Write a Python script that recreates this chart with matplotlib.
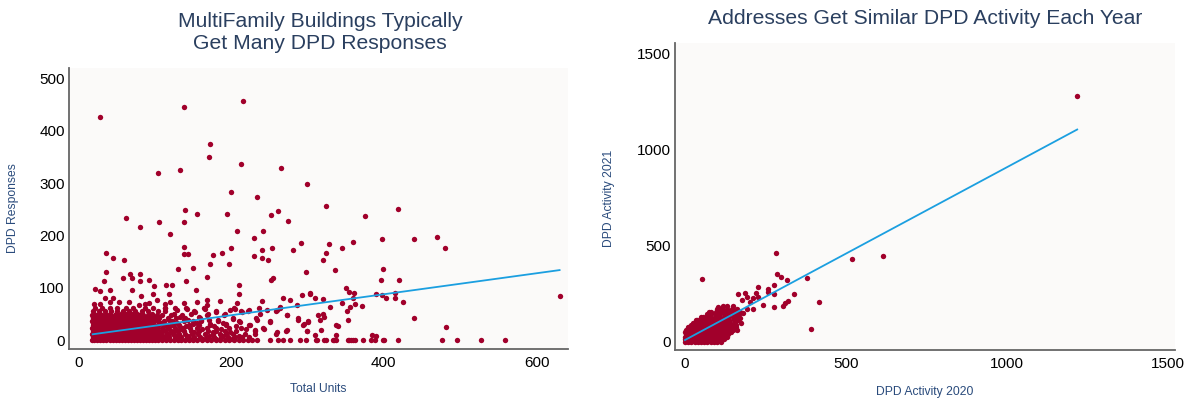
import matplotlib
matplotlib.use("Agg")
import matplotlib.pyplot as plt

plt.rcParams['font.family'] = ['Liberation Sans', 'DejaVu Sans']

# ---- left chart: total units vs DPD responses ----
# sparse points above the dense band
upper_units = [28, 139, 216, 172, 171, 213, 104, 133, 266, 300, 200, 234.5, 140, 156, 195, 252,
               261, 63, 81, 106, 138, 275, 120, 208, 242, 230, 292, 36, 46, 60, 138, 138, 144,
               176, 188, 200, 230, 240, 240, 248.5, 253, 281, 172, 197, 131, 150,
               324, 418, 376, 328, 324, 320, 359, 345, 398, 440, 470, 480, 336, 399, 396, 420,
               350, 354, 361, 390, 398, 414, 403, 414, 359, 304, 310, 321, 345, 362, 371, 356,
               329, 425, 630, 352, 314, 320, 322, 316.5, 353, 439, 337.5, 340, 482, 317.5, 310,
               337.5, 384.5, 390,
               36, 34, 59, 68, 81, 70, 81, 93, 141, 168, 252, 255, 298, 22, 29, 41, 70, 99, 115,
               123, 154, 211, 210, 82, 98.5, 119, 293, 303, 35, 46, 53, 21, 29, 42, 66, 79, 88,
               93, 103, 114, 120, 138, 155, 168, 168, 186, 207.5, 240, 268.5, 277, 264, 286]
upper_resp = [427, 445, 457, 375, 350, 336, 319, 325, 329, 298, 283, 273, 248, 242, 242, 240,
              246, 234, 216, 225, 225, 228, 202, 209, 209, 195, 186, 167, 158, 153, 179, 165, 165,
              163, 167, 177, 161, 173, 157, 153, 176, 172, 145, 145, 137, 138,
              257, 251, 237, 184, 167, 153, 188, 176, 193, 193, 198, 176, 135, 137, 115, 115,
              99, 92, 91, 88, 87, 90, 80, 81, 81, 90, 81, 78, 71, 69, 66, 64,
              64, 73, 84, 56, 48, 50, 44, 38, 38, 42, 29, 27, 25, 20, 10,
              10, 11, 9,
              130, 113, 119, 126, 127, 118, 113, 116, 113, 121, 115, 119, 130, 97, 94, 96, 96, 104, 105,
              105, 96, 106, 89, 85, 89, 88, 87, 89, 81, 81, 73, 70, 70, 73, 73, 68, 70,
              71, 76, 70, 73, 71, 73, 76, 68, 75, 71, 75, 80, 76, 64, 67]

# medium density points above the zero row
mid_units = [114, 129, 142, 153, 166, 170, 181, 192, 199, 205, 214, 223, 238, 247, 260, 273, 288,
             295, 301, 251, 234, 225, 212, 203, 194, 183, 172, 161, 150, 139, 133, 124, 115, 232,
             243, 260, 273, 299]
mid_resp = [62, 57, 60, 54, 60, 51, 54, 51, 57, 60, 54, 57, 51, 57, 57, 48, 38,
            32, 35, 35, 38, 29, 35, 41, 32, 38, 32, 38, 32, 38, 25, 35, 29, 19,
            22, 16, 19, 18]

# dense band near zero, one list of units per response level
dense_levels = [0, 6, 12, 18, 24, 30, 36, 42, 48, 55, 62,
                3, 9, 15, 21, 27, 33, 39, 45, 51]
dense_units = [
    [18, 21, 25, 29, 33, 37, 41, 45, 49, 53, 57, 61, 65, 69, 73, 77, 81, 85, 89, 93, 97, 101, 105,
     110, 115, 120, 125, 130, 135, 140, 145, 150, 156, 162, 168, 174, 180, 186, 192, 198, 204, 210,
     216, 222, 228, 234, 251, 262, 268, 277, 290, 298, 311, 312, 322, 324, 333, 335, 337.5, 353,
     355, 357.5, 360, 362, 372.5, 383, 389, 399, 400.5, 419, 476.5, 496, 527, 558.5],
    [19, 24, 29, 34, 39, 44, 49, 54, 59, 64, 69, 74, 79, 84, 89, 94, 99, 104, 111, 119, 127, 135,
     143, 152, 160, 169, 178, 187, 196, 205, 214, 224],
    [18, 23, 28, 33, 38, 43, 48, 53, 58, 63, 68, 73, 78, 83, 88, 93, 98, 103, 109, 117, 124, 132,
     140, 149, 157, 166, 176, 185, 194, 203, 218, 231, 259],
    [20, 25, 30, 35, 40, 45, 50, 55, 60, 65, 70, 75, 80, 85, 90, 95, 100, 105, 113, 121, 130, 139,
     148, 158, 170, 181, 192, 206, 231, 272, 299],
    [18, 23, 28, 33, 38, 43, 48, 53, 58, 63, 68, 73, 78, 83, 88, 93, 98, 103, 110, 118, 127, 137,
     146, 155, 168, 180, 197, 213, 242],
    [19, 24, 29, 34, 39, 44, 49, 54, 59, 64, 69, 74, 79, 84, 89, 94, 99, 104, 114, 124, 132, 145,
     158, 173, 193, 224, 294],
    [18, 23, 28, 33, 38, 43, 48, 53, 58, 63, 68, 73, 78, 83, 88, 93, 98, 104, 112, 123, 138, 150,
     161, 183, 211, 251, 301],
    [20, 25, 30, 35, 40, 45, 50, 55, 60, 65, 70, 75, 80, 85, 90, 95, 100, 106, 117, 128, 140, 160,
     202, 233, 288],
    [18, 24, 30, 36, 42, 48, 54, 61, 67, 73, 79, 85, 91, 97, 103, 110, 122, 136, 169, 191, 273],
    [19, 27, 35, 43, 51, 59, 67, 75, 83, 92, 104, 114, 152, 180, 213, 222, 259],
    [22, 31, 42, 51, 62, 72, 87, 98, 113, 127, 141, 165, 204, 237, 264],
    [21, 26, 31, 36, 41, 46, 51, 56, 61, 66, 71, 76, 81, 86, 91, 96, 101, 107, 116, 131, 146, 163,
     181, 201],
    [20, 26, 32, 38, 44, 50, 56, 62, 68, 74, 80, 86, 92, 98, 104, 114, 128, 144, 171, 189, 211],
    [21, 26, 31, 36, 41, 46, 51, 56, 61, 66, 71, 76, 81, 86, 91, 96, 101, 108, 126, 152, 176, 199],
    [19, 25, 31, 37, 43, 49, 55, 61, 67, 73, 79, 85, 91, 97, 103, 116, 134, 162, 187, 219],
    [21, 26, 31, 36, 41, 46, 51, 56, 61, 66, 71, 76, 81, 86, 91, 96, 101, 120, 141, 178, 207],
    [20, 26, 32, 38, 44, 50, 56, 62, 68, 74, 80, 86, 92, 98, 108, 129, 155, 189],
    [21, 27, 33, 39, 45, 51, 57, 63, 69, 75, 81, 87, 93, 100, 119, 144, 171],
    [19, 25, 31, 37, 43, 49, 55, 61, 67, 73, 79, 85, 92, 102, 133, 158],
    [21, 28, 35, 42, 49, 56, 63, 70, 77, 84, 96, 126, 147],
]

# fitted trend line, end points
trend1_units = [19, 630]
trend1_resp = [11.5, 134]

# ---- right chart: DPD activity 2020 vs 2021 ----
act_2020 = [1219, 519, 615, 283, 52, 285, 298, 316, 380, 339, 417, 393, 319, 311, 306, 276, 278,
            257, 257, 278, 228, 221, 228, 242, 212, 202, 194, 187, 166, 176, 210, 192, 179, 174,
            161, 150, 135, 150, 161, 171, 103.5, 111, 98.5, 75.5, 57, 36, 119, 124]
act_2021 = [1278, 430, 447, 461, 328, 354, 338, 321, 333, 246, 206, 66, 212, 200, 187, 179, 248,
            272, 257, 295, 286, 252, 234, 191, 226, 208, 234, 255, 246, 217, 168, 170, 148, 96,
            61, 78, 70, 165, 148, 122, 179, 168, 156, 156, 130, 113, 90, 125]

blob_levels = [0, 12, 25, 38, 50, 62, 75, 88, 100, 114, 128, 142, 156, 170, 184]
blob_2020 = [
    [0, 10, 20, 30, 40, 50, 60, 70, 80, 90, 100, 112],
    [0, 10, 20, 30, 40, 50, 60, 70, 80, 90, 100, 110, 120],
    [0, 12, 24, 36, 48, 60, 72, 84, 96, 108, 120, 130],
    [2, 14, 26, 38, 50, 62, 74, 86, 98, 110, 122, 135],
    [0, 12, 24, 36, 48, 60, 72, 84, 96, 108, 120, 132, 142],
    [4, 16, 28, 40, 52, 64, 76, 88, 100, 112, 124, 138, 150],
    [8, 22, 36, 50, 62, 74, 86, 98, 110, 122, 134, 148, 160],
    [18, 32, 46, 60, 72, 84, 96, 108, 120, 132, 146, 158],
    [26, 40, 54, 66, 78, 90, 102, 114, 126, 140, 154],
    [34, 48, 62, 76, 88, 100, 112, 124, 138, 152, 165],
    [50, 64, 78, 92, 106, 120, 134, 148, 160],
    [68, 82, 96, 110, 124, 138, 152, 168],
    [82, 96, 110, 124, 140, 156, 172],
    [100, 114, 130, 146, 162],
    [118, 132, 150],
]

trend2_2020 = [0, 1219]
trend2_2021 = [9, 1104]

# ---- assemble point lists ----
units = upper_units + mid_units
resp = upper_resp + mid_resp
for lvl, row in zip(dense_levels, dense_units):
    units += row
    resp += [lvl] * len(row)

x2 = list(act_2020)
y2 = list(act_2021)
for lvl, row in zip(blob_levels, blob_2020):
    x2 += row
    y2 += [lvl] * len(row)

dot_color = '#a1002b'
line_color = '#1b9fe0'
bg = '#fbfaf9'
title_color = '#2a3f5f'
label_color = '#2a4b7c'

W, H = 1186, 398
fig = plt.figure(figsize=(W / 100, H / 100), dpi=100)
ax1 = fig.add_axes([69 / W, 1 - 349 / H, 499 / W, 281 / H])
ax2 = fig.add_axes([675 / W, 1 - 350 / H, 500 / W, 307 / H])

for ax in (ax1, ax2):
    ax.set_facecolor(bg)
    for side in ('top', 'right'):
        ax.spines[side].set_visible(False)
    for side in ('left', 'bottom'):
        ax.spines[side].set_color('#666666')
        ax.spines[side].set_linewidth(1.3)
    ax.tick_params(length=0, labelsize=11, colors='black')
    ax.tick_params(axis='x', pad=5)
    ax.tick_params(axis='y', pad=3)

ax1.scatter(units, resp, s=15, color=dot_color, linewidths=0, zorder=2)
ax1.plot(trend1_units, trend1_resp, color=line_color, lw=1.3, zorder=3)
ax1.set_xlim(-12, 641)
ax1.set_ylim(-16.6, 519.7)
ax1.set_xticks([0, 200, 400, 600])
ax1.set_yticks([0, 100, 200, 300, 400, 500])

ax2.scatter(x2, y2, s=15, color=dot_color, linewidths=0, zorder=2)
ax2.plot(trend2_2020, trend2_2021, color=line_color, lw=1.3, zorder=3)
ax2.set_xlim(-31, 1523)
ax2.set_ylim(-43, 1554)
ax2.set_xticks([0, 500, 1000, 1500])
ax2.set_yticks([0, 500, 1000, 1500])

fig.text(320 / W, 1 - 32.5 / H, 'MultiFamily Buildings Typically\nGet Many DPD Responses',
         ha='center', va='center', fontsize=15.2, color=title_color, linespacing=1.2)
fig.text(925 / W, 1 - 18 / H, 'Addresses Get Similar DPD Activity Each Year',
         ha='center', va='center', fontsize=15.2, color=title_color)

fig.text(13 / W, 1 - 208 / H, 'DPD Responses', rotation=90, ha='center', va='center',
         fontsize=8.7, color=label_color)
fig.text(318 / W, 1 - 389 / H, 'Total Units', ha='center', va='center',
         fontsize=8.7, color=label_color)
fig.text(609 / W, 1 - 198 / H, 'DPD Activity 2021', rotation=90, ha='center', va='center',
         fontsize=8.7, color=label_color)
fig.text(925 / W, 1 - 392 / H, 'DPD Activity 2020', ha='center', va='center',
         fontsize=8.7, color=label_color)

fig.savefig('out.png', dpi=100, facecolor='white')
